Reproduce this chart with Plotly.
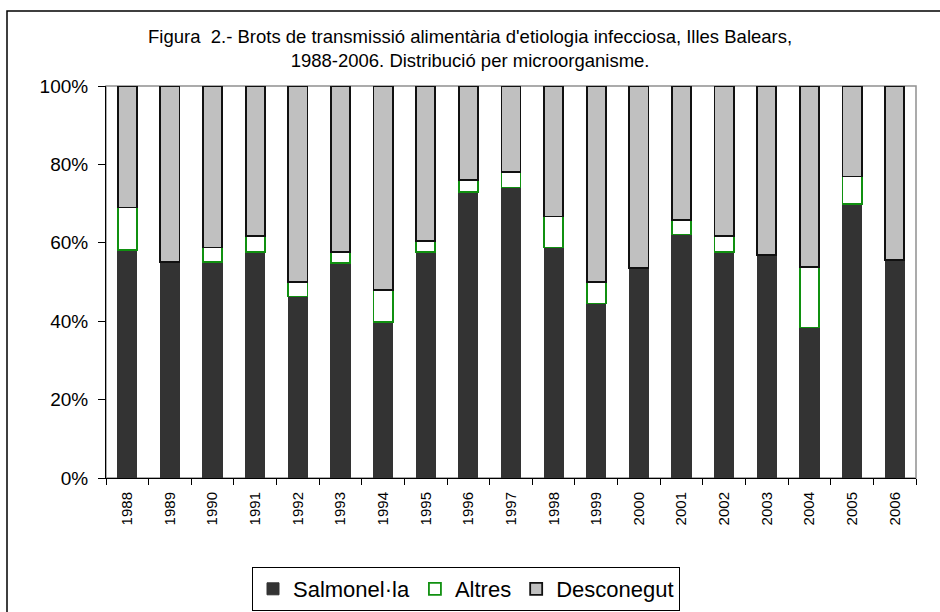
import plotly.graph_objects as go

years = [str(y) for y in range(1988, 2007)]
salmonella = [58.1, 55.2, 55.2, 57.6, 46.3, 54.8, 39.7, 57.6, 72.9, 74.1, 58.8, 44.5, 53.6, 62.1, 57.6, 56.8, 38.4, 69.9, 55.6]
altres_top = [69.0, 55.2, 58.8, 61.7, 50.0, 57.6, 47.9, 60.5, 76.1, 78.1, 66.7, 49.9, 53.6, 65.8, 61.7, 56.8, 53.9, 76.9, 55.6]
altres = [round(a - s, 1) for a, s in zip(altres_top, salmonella)]
desconegut = [round(100 - a, 1) for a in altres_top]
ytickvals = [0, 20, 40, 60, 80, 100]
yticktext = ["0%", "20%", "40%", "60%", "80%", "100%"]

W, H = 940, 612
L, R, T, B = 106, 24, 86, 134
pw, ph = W - L - R, H - T - B

fig = go.Figure()
fig.add_trace(go.Bar(x=years, y=salmonella, name="Salmonel·la",
                     marker=dict(color="#333333", line=dict(color="#333333", width=1))))
fig.add_trace(go.Bar(x=years, y=altres, name="Altres",
                     marker=dict(color="#ffffff", line=dict(color="#109010", width=1.8))))
fig.add_trace(go.Bar(x=years, y=desconegut, name="Desconegut",
                     marker=dict(color="#c0c0c0", line=dict(color="#111111", width=1.8))))

def px_x(x):
    return (x - L) / pw

def px_y(y):
    return (H - B - y) / ph

fig.update_layout(
    width=W, height=H,
    margin=dict(l=L, r=R, t=T, b=B, autoexpand=False),
    barmode="stack", bargap=0.55,
    paper_bgcolor="white", plot_bgcolor="white",
    font=dict(family="Liberation Sans, Arial, sans-serif", color="#000000"),
    showlegend=True,
    legend=dict(orientation="h", x=px_x(466), xanchor="center", y=px_y(567), yanchor="top",
                font=dict(size=22), bordercolor="#000000", borderwidth=1,
                bgcolor="white", itemwidth=30, traceorder="normal"),
    xaxis=dict(type="category", tickson="boundaries", ticks="outside", ticklen=6,
               tickcolor="#000000", showline=True, linecolor="#000000", linewidth=1,
               tickangle=-90, tickfont=dict(size=15), ticklabelstandoff=7,
               showgrid=False, automargin=False),
    yaxis=dict(range=[0, 100], tickvals=ytickvals, ticktext=yticktext,
               ticks="outside", ticklen=7, tickcolor="#000000", showline=True,
               linecolor="#000000", linewidth=1, tickfont=dict(size=19),
               ticklabelstandoff=6, showgrid=False, zeroline=False, automargin=False),
    shapes=[
        dict(type="rect", xref="paper", yref="paper", x0=0, x1=1, y0=0, y1=1,
             line=dict(color="#909090", width=1.5), layer="below"),
        dict(type="rect", xref="paper", yref="paper", x0=px_x(7), x1=px_x(960),
             y0=px_y(630), y1=px_y(11), line=dict(color="#000000", width=1.5), layer="below"),
    ],
    annotations=[
        dict(text="Figura  2.- Brots de transmissió alimentària d'etiologia infecciosa, Illes Balears,<br>1988-2006. Distribució per microorganisme.",
             xref="paper", yref="paper", x=px_x(470), y=px_y(24), xanchor="center", yanchor="top",
             showarrow=False, font=dict(size=18.5), align="center"),
    ],
)

fig.write_html("out.html", config={"displayModeBar": False},
               post_script="document.body.style.margin='0';")
